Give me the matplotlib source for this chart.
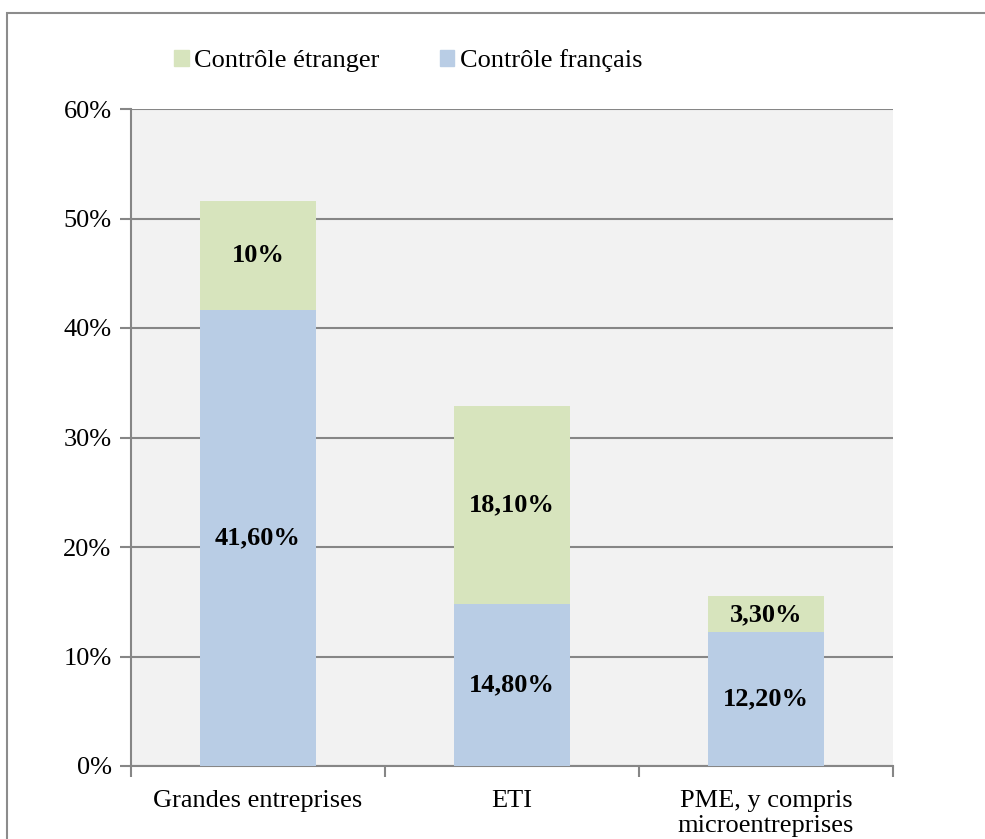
import matplotlib
matplotlib.use("Agg")
import matplotlib.pyplot as plt
from matplotlib.patches import Rectangle, Patch
import numpy as np

categories = ["Grandes entreprises", "ETI", "PME, y compris\nmicroentreprises"]
francais = [41.6, 14.8, 12.2]
etranger = [10.0, 18.1, 3.3]
francais_labels = ["41,60%", "14,80%", "12,20%"]
etranger_labels = ["10%", "18,10%", "3,30%"]
yticks = [0, 10, 20, 30, 40, 50, 60]
ytick_labels = ["0%", "10%", "20%", "30%", "40%", "50%", "60%"]

col_fr = "#B9CDE5"
col_et = "#D7E4BD"
grid_col = "#868686"
FS = 19
font = "Liberation Serif"
plt.rcParams["font.family"] = font

W, H = 985, 839
fig = plt.figure(figsize=(W / 100, H / 100), dpi=100)

# outer frame
fig.patches.append(Rectangle((7 / W, -0.05), 1.2, 1 - 13 / H + 0.05, transform=fig.transFigure,
                             fill=False, edgecolor="#8C8C8C", linewidth=1.5))

ax = fig.add_axes([131 / W, 1 - 766 / H, (893 - 131) / W, (766 - 109) / H])
ax.set_facecolor("#F2F2F2")
x = np.arange(len(categories))
bw = 0.455
ax.bar(x, francais, bw, color=col_fr, zorder=3)
ax.bar(x, etranger, bw, bottom=francais, color=col_et, zorder=3)

for i in range(len(categories)):
    ax.text(x[i], francais[i] / 2, francais_labels[i], ha="center", va="center",
            fontsize=FS, fontweight="bold", zorder=4)
    ax.text(x[i], francais[i] + etranger[i] / 2, etranger_labels[i], ha="center", va="center",
            fontsize=FS, fontweight="bold", zorder=4)

ax.set_xlim(-0.5, len(categories) - 0.5)
ax.set_ylim(0, 60)
ax.set_yticks(yticks)
ax.set_yticklabels(ytick_labels, fontsize=FS)
ax.yaxis.grid(True, color=grid_col, linewidth=1.5, zorder=1)
ax.set_axisbelow(True)

ax.set_xticks(np.arange(-0.5, len(categories), 1.0), minor=False)
ax.set_xticklabels([""] * (len(categories) + 1))
ax.set_xticks(x, minor=True)
ax.set_xticklabels(categories, minor=True, fontsize=FS, linespacing=1.2)
ax.tick_params(axis="x", which="minor", length=0, pad=17)
ax.tick_params(axis="x", which="major", length=8, width=1.5, color=grid_col, direction="out")
ax.tick_params(axis="y", length=8, width=1.5, color=grid_col, direction="out", pad=6)

for s in ["top", "right"]:
    ax.spines[s].set_visible(False)
for s in ["left", "bottom"]:
    ax.spines[s].set_color(grid_col)
    ax.spines[s].set_linewidth(1.5)

handles = [Patch(color=col_et, label="Contrôle étranger"), Patch(color=col_fr, label="Contrôle français")]
fig.legend(handles=handles, loc="center left", bbox_to_anchor=(174 / W, 1 - 61 / H), ncol=2,
           frameon=False, fontsize=FS, handlelength=0.55, handleheight=0.55, handletextpad=0.2,
           columnspacing=2.3, borderaxespad=0, borderpad=0)

fig.savefig("out.png", dpi=100)
